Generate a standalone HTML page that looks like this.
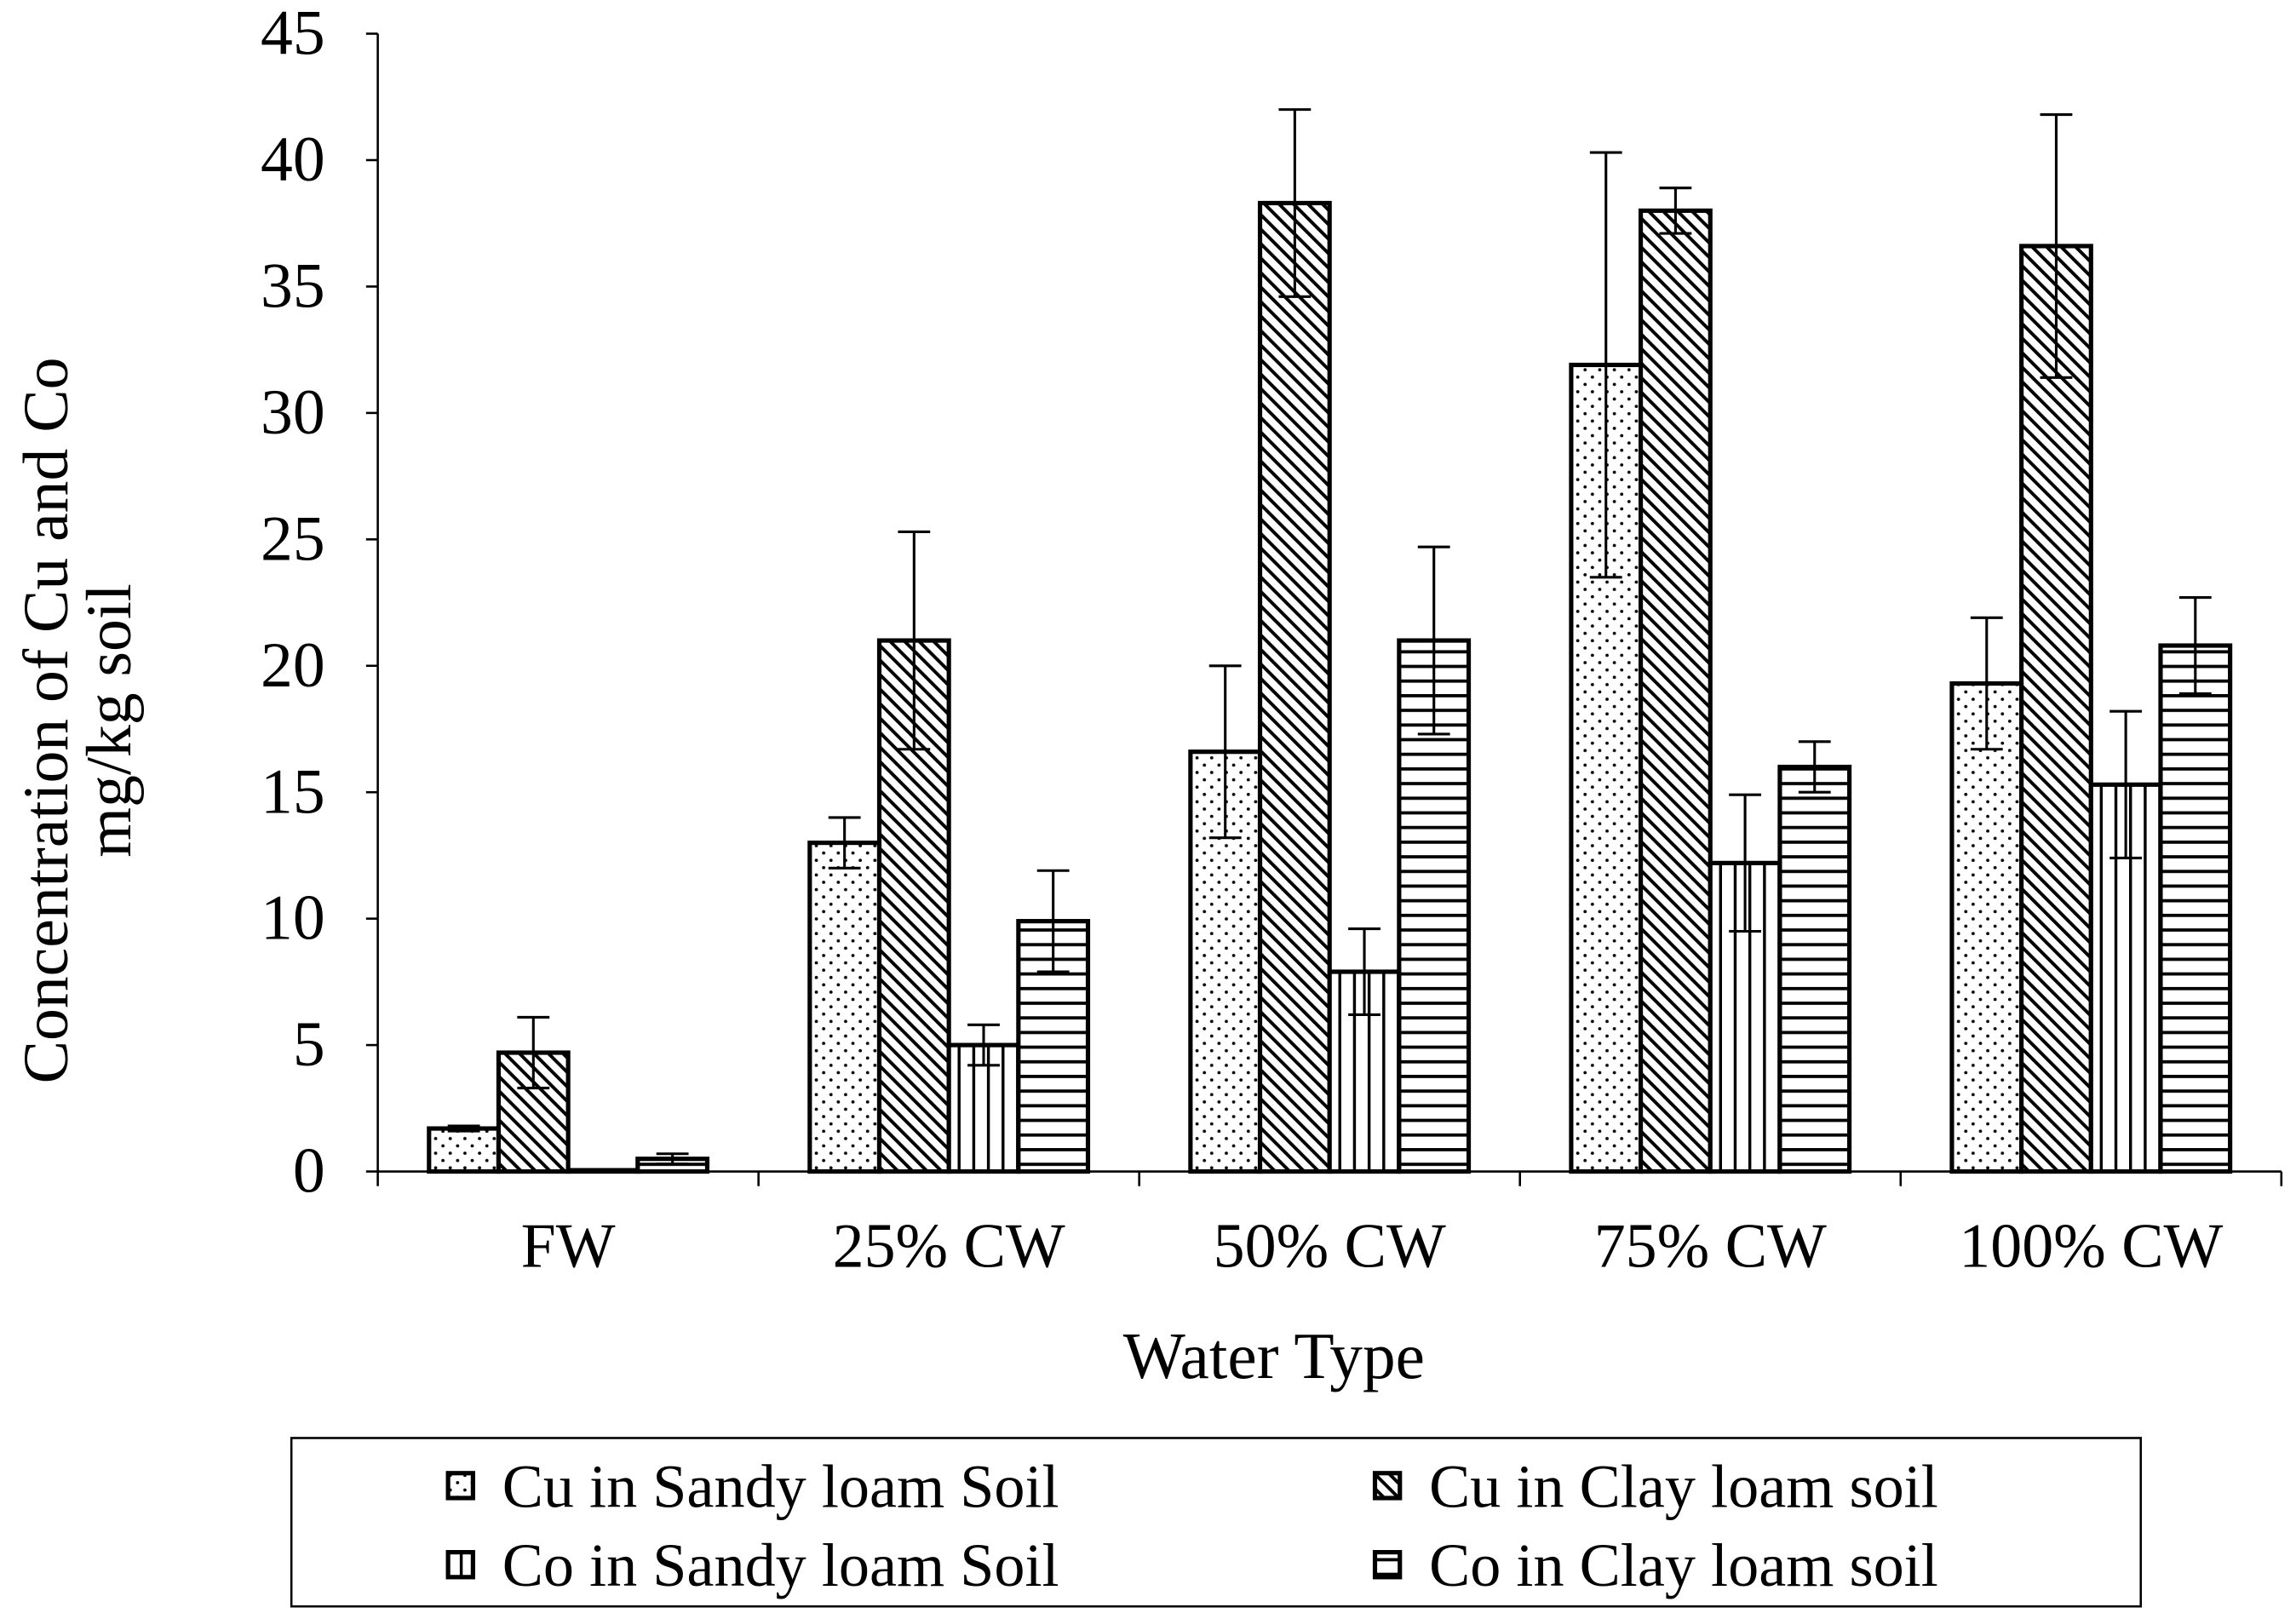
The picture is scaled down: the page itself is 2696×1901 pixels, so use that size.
<!DOCTYPE html>
<html><head><meta charset="utf-8"><style>
html,body{margin:0;padding:0;background:#fff}
svg{display:block}
text{font-family:"Liberation Serif",serif;fill:#000}
</style></head><body>
<svg id="chart" width="2696" height="1901" viewBox="0 0 1568 1105.6" preserveAspectRatio="none" xmlns="http://www.w3.org/2000/svg">
<defs>
<pattern id="pDots" patternUnits="userSpaceOnUse" width="10" height="10"><rect width="10" height="10" fill="#fff"/><circle cx="2.5" cy="2.5" r="1.1" fill="#000"/><circle cx="7.5" cy="7.5" r="1.1" fill="#000"/></pattern>
<pattern id="pDiag" patternUnits="userSpaceOnUse" width="7" height="7" patternTransform="rotate(-45)"><rect width="7" height="7" fill="#fff"/><rect x="0" y="0" width="2.3" height="7" fill="#000"/></pattern>
<pattern id="pVert" patternUnits="userSpaceOnUse" width="10" height="10"><rect width="10" height="10" fill="#fff"/><rect x="4" width="2" height="10" fill="#000"/></pattern>
<pattern id="pHorz" patternUnits="userSpaceOnUse" width="10" height="10"><rect width="10" height="10" fill="#fff"/><rect y="4" width="10" height="2.2" fill="#000"/></pattern>
</defs>
<g id="axes"></g>
<g id="bars"></g>
<text x="870" y="941" font-size="45" text-anchor="middle">Water Type</text>
<g transform="translate(46,492) rotate(-90)">
<text x="0" y="0" font-size="44" text-anchor="middle">Concentration of Cu and Co</text>
<text x="0" y="43" font-size="44" text-anchor="middle">mg/kg soil</text>
</g>
<rect x="199" y="982" width="1263" height="115" fill="#fff" stroke="#000" stroke-width="1.5"/>
<g id="legend"></g>
</svg>
<script>
const categories=["FW","25% CW","50% CW","75% CW","100% CW"];
const seriesNames=["Cu in Sandy loam Soil","Cu in Clay loam soil","Co in Sandy loam Soil","Co in Clay loam soil"];
const cuSandy=[1.7,13,16.6,31.9,19.3];
const cuClay=[4.7,21,38.3,38,36.6];
const coSandy=[0.05,5,7.9,12.2,15.3];
const coClay=[0.5,9.9,21,16,20.8];
const cuSandyErr=[0.1,1,3.4,8.4,2.6];
const cuClayErr=[1.4,4.3,3.7,0.9,5.2];
const coSandyErr=[0,0.8,1.7,2.7,2.9];
const coClayErr=[0.2,2,3.7,1,1.9];
const yTicks=[0,5,10,15,20,25,30,35,40,45];

const NS="http://www.w3.org/2000/svg";
const X0=258,X1=1558,Y0=800,Y45=23;
const y=v=>Y0-(v/45)*(Y0-Y45);
const band=(X1-X0)/categories.length;
const xc=i=>X0+band*(i+0.5);
const barW=47.5;
function mk(tag,attrs,parent){const e=document.createElementNS(NS,tag);for(const k in attrs)e.setAttribute(k,attrs[k]);parent.appendChild(e);return e;}
const axes=document.getElementById('axes'),bars=document.getElementById('bars'),leg=document.getElementById('legend');
const ya=mk('line',{x1:X0,y1:Y45,x2:X0,y2:Y0,stroke:'#000','stroke-width':1.5},axes);


const xa=mk('line',{x1:X0,y1:Y0,x2:X1,y2:Y0,stroke:'#000','stroke-width':1.5},axes);


yTicks.forEach(t=>{
  mk('line',{x1:X0-8,y1:y(t),x2:X0,y2:y(t),stroke:'#000','stroke-width':1.5},axes);
  const tx=mk('text',{x:X0-36,y:y(t)+14,'font-size':44,'text-anchor':'end'},axes);
  tx.textContent=t;
  
  
});
for(let i=0;i<=categories.length;i++){mk('line',{x1:X0+band*i,y1:Y0,x2:X0+band*i,y2:Y0+10,stroke:'#000','stroke-width':1.5},axes);}
categories.forEach((c,i)=>{
  const tx=mk('text',{x:xc(i),y:865,'font-size':43,'text-anchor':'middle'},axes);
  tx.textContent=c;
  
  
});
const series=[cuSandy,cuClay,coSandy,coClay];
const errs=[cuSandyErr,cuClayErr,coSandyErr,coClayErr];
const fills=['url(#pDots)','url(#pDiag)','url(#pVert)','url(#pHorz)'];
const keys=['cu-sandy','cu-clay','co-sandy','co-clay'];
categories.forEach((c,i)=>{
  series.forEach((s,j)=>{
    const bx=xc(i)-2*barW+j*barW, v=s[i];
    const r=mk('rect',{x:bx,y:y(v),width:barW,height:Y0-y(v),fill:fills[j],stroke:'#000','stroke-width':3},bars);
    
    
    const e=errs[j][i];
    if(e>0){
      const cx=bx+barW/2;
      const g=mk('g',{stroke:'#000','stroke-width':1.8},bars);
      
      
      mk('line',{x1:cx,y1:y(v+e),x2:cx,y2:y(v-e)},g);
      mk('line',{x1:cx-11,y1:y(v+e),x2:cx+11,y2:y(v+e)},g);
      mk('line',{x1:cx-11,y1:y(v-e),x2:cx+11,y2:y(v-e)},g);
    }
  });
});
const lpos=[[313,1014],[946,1014],[313,1068],[946,1068]];
seriesNames.forEach((n,j)=>{
  const g=mk('g',{},leg);
  
  
  mk('rect',{x:lpos[j][0]-7,y:lpos[j][1]-8,width:17,height:17,fill:fills[j],stroke:'#000','stroke-width':3},g);
  const t=mk('text',{x:lpos[j][0]+30,y:lpos[j][1]+15,'font-size':42},g);
  t.textContent=n;
});
</script>
</body></html>
